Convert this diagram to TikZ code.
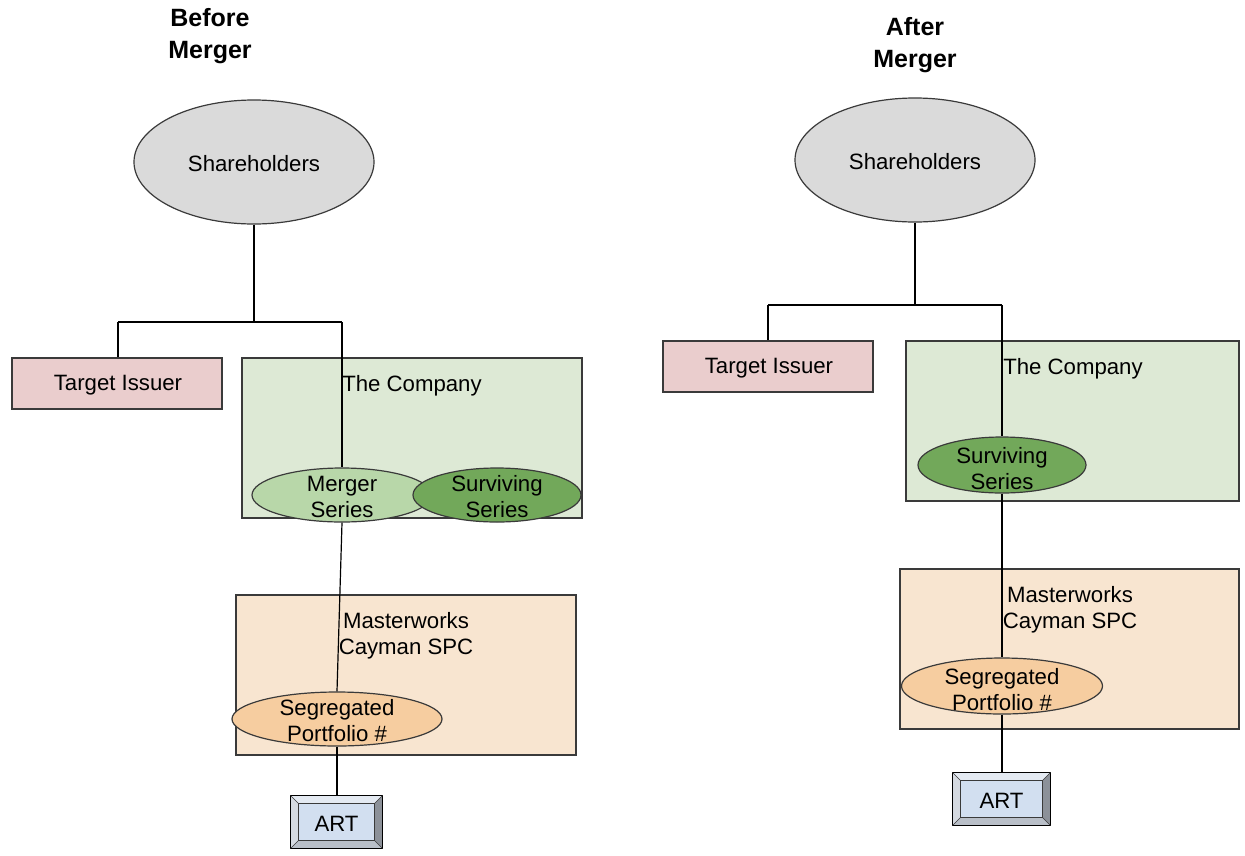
\documentclass[tikz,border=0pt]{standalone}
\usepackage{fontspec}
\setmainfont{Liberation Sans}
\usetikzlibrary{shapes.geometric,calc}
\definecolor{shgray}{HTML}{DADADA}
\definecolor{tpink}{HTML}{EACDCD}
\definecolor{cgreen}{HTML}{DDE9D5}
\definecolor{mgreen}{HTML}{B8D7A9}
\definecolor{sgreen}{HTML}{72A85A}
\definecolor{mpeach}{HTML}{F8E5D0}
\definecolor{spor}{HTML}{F6CDA0}
\definecolor{artblue}{HTML}{D2DFF0}
\definecolor{bevlight}{HTML}{E4EAF2}
\definecolor{bevmid}{HTML}{B9BFC8}
\definecolor{bevdark}{HTML}{8C9199}
\definecolor{edge}{HTML}{3A3A3A}
\tikzset{
  txt/.style={font=\fontsize{22.2}{26}\selectfont, align=center, inner sep=0pt},
  ttl/.style={font=\fontsize{25}{32}\selectfont\bfseries, align=center, inner sep=0pt},
  oval/.style={ellipse, draw=edge, line width=1.2pt, inner sep=0pt},
  boxr/.style={rectangle, draw=edge, line width=1.2pt, inner sep=0pt},
  conn/.style={draw=black, line width=1.2pt},
  artframe/.style={rectangle, draw=black, line width=1.2pt, inner sep=0pt, fill=bevmid},
}
\newcommand\bevelbox[1]{%
  \fill[bevlight] (#1.north west) -- (#1.north east) -- ($(#1.north east)+(-8,8)$) -- ($(#1.north west)+(8,8)$) -- cycle;
  \fill[bevlight!85!gray] (#1.north west) -- ($(#1.north west)+(8,8)$) -- ($(#1.south west)+(8,-8)$) -- (#1.south west) -- cycle;
  \fill[bevdark] (#1.north east) -- ($(#1.north east)+(-8,8)$) -- ($(#1.south east)+(-8,-8)$) -- (#1.south east) -- cycle;
  \fill[bevmid] (#1.south west) -- ($(#1.south west)+(8,-8)$) -- ($(#1.south east)+(-8,-8)$) -- (#1.south east) -- cycle;
  \draw[black, line width=1.2pt] (#1.north west) rectangle (#1.south east);
  \draw[edge, line width=0.8pt, fill=artblue] ($(#1.north west)+(8,8)$) rectangle ($(#1.south east)+(-8,-8)$);
  \draw[edge, line width=0.5pt] (#1.north west) -- ($(#1.north west)+(8,8)$) (#1.north east) -- ($(#1.north east)+(-8,8)$) (#1.south west) -- ($(#1.south west)+(8,-8)$) (#1.south east) -- ($(#1.south east)+(-8,-8)$);
}
\begin{document}
\begin{tikzpicture}[x=1pt,y=-1pt]
\useasboundingbox[fill=white] (0,0) rectangle (1245,855);

% ---------- Before ----------
\node[ttl] (t1) at (210,36) {Before\\Merger};
\node[oval, fill=shgray, minimum width=240, minimum height=124] (sh1) at (254,162) {};
\node[txt] (sh1t) at (254,164) {Shareholders};
\node[boxr, fill=tpink, minimum width=210, minimum height=51] (ti1) at (117,383.5) {};
\node[txt] (ti1t) at (118,385) {Target Issuer};
\node[boxr, fill=cgreen, minimum width=340, minimum height=160] (co1) at (412,438) {};
\node[txt] (co1t) at (412,386) {The Company};
\node[oval, fill=mgreen, minimum width=180, minimum height=54] (ms1) at (342,495) {};
\node[txt] (ms1t) at (342,497) {Merger\\Series};
\node[oval, fill=sgreen, minimum width=168, minimum height=54] (ss1) at (497,495) {};
\node[txt] (ss1t) at (497,497) {Surviving\\Series};
\node[boxr, fill=mpeach, minimum width=340, minimum height=160] (mw1) at (406,675) {};
\node[txt] (mw1t) at (406,636) {Masterworks\\Cayman SPC};
\node[oval, fill=spor, minimum width=210, minimum height=54] (sp1) at (337,719) {};
\node[txt] (sp1t) at (337,721) {Segregated\\Portfolio \#};
\node[artframe, minimum width=91, minimum height=52] (art1) at (336.5,822) {};
\bevelbox{art1}
\node[txt] (art1t) at (336.5,824) {ART};

\coordinate (j1) at (254,322);
\coordinate (l1) at (118,322);
\coordinate (r1) at (342,322);
\draw[conn] (sh1.south) -- (j1);
\draw[conn] (l1) -- (r1);
\draw[conn] (l1) -- (ti1.north -| l1);
\draw[conn] (r1) -- (ms1.north);
\draw[conn] (ms1.south) -- (sp1.north);
\draw[conn] (sp1.south) -- (art1.north -| sp1.south);

% ---------- After ----------
\node[ttl] (t2) at (915,45) {After\\Merger};
\node[oval, fill=shgray, minimum width=240, minimum height=124] (sh2) at (915,160) {};
\node[txt] (sh2t) at (915,162) {Shareholders};
\node[boxr, fill=tpink, minimum width=210, minimum height=51] (ti2) at (768,366.5) {};
\node[txt] (ti2t) at (769,368) {Target Issuer};
\node[boxr, fill=cgreen, minimum width=333, minimum height=160] (co2) at (1072.5,421) {};
\node[txt] (co2t) at (1073,369) {The Company};
\node[oval, fill=sgreen, minimum width=168, minimum height=56] (ss2) at (1002,465) {};
\node[txt] (ss2t) at (1002,469) {Surviving\\Series};
\node[boxr, fill=mpeach, minimum width=339, minimum height=160] (mw2) at (1069.5,649) {};
\node[txt] (mw2t) at (1070,610) {Masterworks\\Cayman SPC};
\node[oval, fill=spor, minimum width=201, minimum height=56] (sp2) at (1002,686) {};
\node[txt] (sp2t) at (1002,690) {Segregated\\Portfolio \#};
\node[artframe, minimum width=97, minimum height=52] (art2) at (1001.5,799) {};
\bevelbox{art2}
\node[txt] (art2t) at (1001.5,801) {ART};

\coordinate (j2) at (915,305);
\coordinate (l2) at (768,305);
\coordinate (r2) at (1002,305);
\draw[conn] (sh2.south) -- (j2);
\draw[conn] (l2) -- (r2);
\draw[conn] (l2) -- (ti2.north -| l2);
\draw[conn] (r2) -- (ss2.north);
\draw[conn] (ss2.south) -- (sp2.north);
\draw[conn] (sp2.south) -- (art2.north -| sp2.south);
\end{tikzpicture}
\end{document}
